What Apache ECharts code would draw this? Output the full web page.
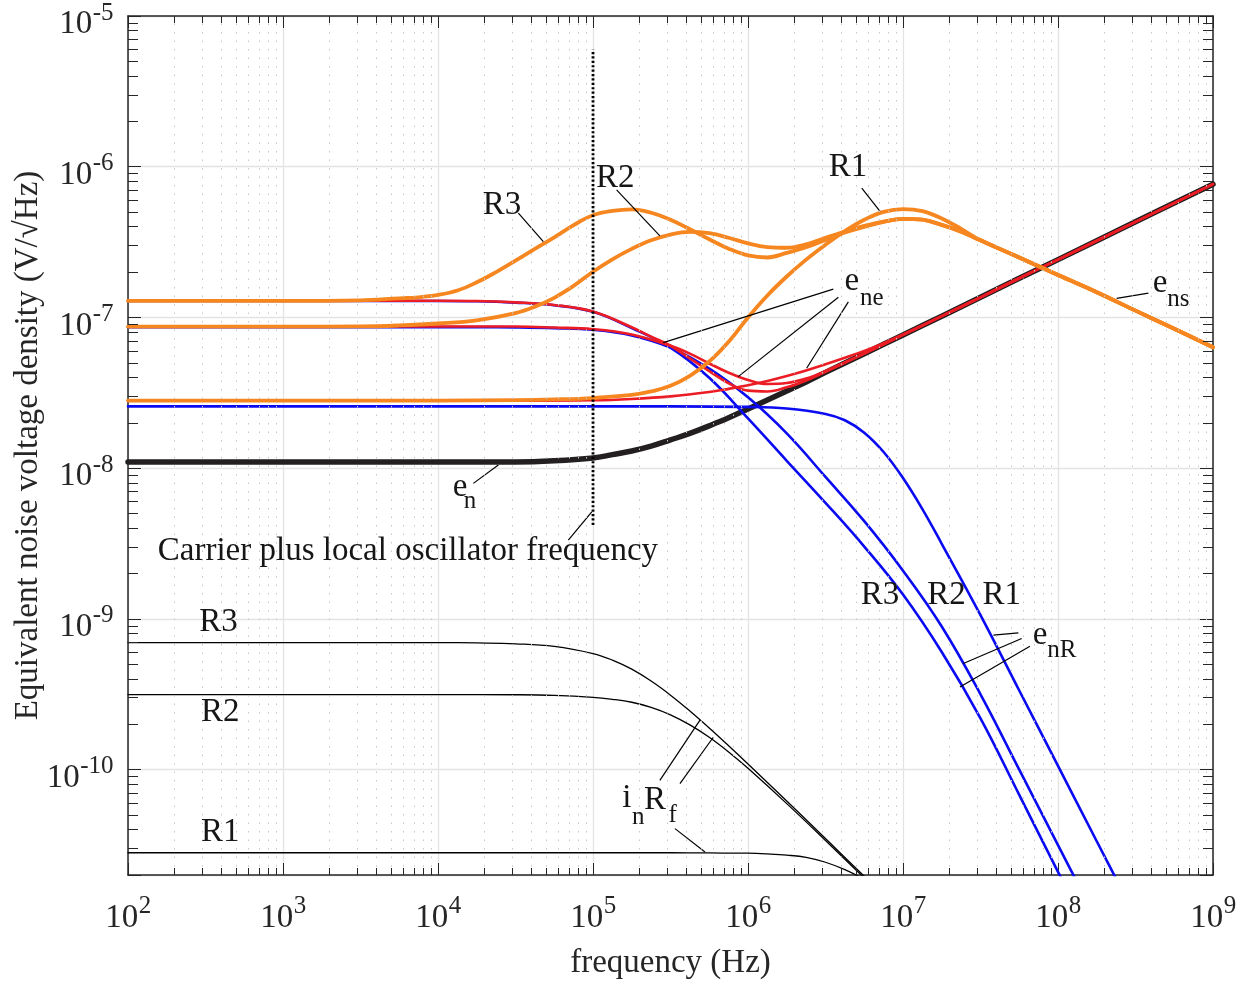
<!DOCTYPE html>
<html><head><meta charset="utf-8">
<script src="https://cdn.jsdelivr.net/npm/echarts@6/dist/echarts.min.js"></script>
<style>html,body{margin:0;padding:0;background:#fff}#c{width:1251px;height:987px}</style>
</head><body><div id="c"></div>
<script>
// ---------- data: [frequency (Hz), density (V/sqrt(Hz))] ----------
// e_ns (orange)
const ensR3 = [[1e2,1.29e-7],[1e3,1.29e-7],[3.162e3,1.30e-7],[5.623e3,1.34e-7],[7.499e3,1.36e-7],[1e4,1.41e-7],
  [1.334e4,1.51e-7],[1.778e4,1.71e-7],[2.371e4,2.0e-7],[3.162e4,2.38e-7],[4.217e4,2.85e-7],[5.623e4,3.40e-7],
  [7.499e4,4.1e-7],[1e5,4.76e-7],[1.334e5,5.09e-7],[1.778e5,5.21e-7],[2.371e5,4.95e-7],[3.162e5,4.45e-7],
  [4.217e5,3.85e-7],[5.623e5,3.30e-7],[7.499e5,2.86e-7],[1e6,2.58e-7],[1.334e6,2.50e-7],[1.778e6,2.68e-7],
  [2.371e6,2.92e-7],[3.162e6,3.27e-7],[4.217e6,3.66e-7],[5.623e6,3.99e-7],[7.499e6,4.31e-7],[1e7,4.51e-7],
  [1.334e7,4.45e-7],[1.778e7,4.11e-7],[2.371e7,3.71e-7],[3.162e7,3.25e-7],[5.623e7,2.50e-7],[1e8,1.91e-7],
  [1.778e8,1.47e-7],[3.162e8,1.11e-7],[5.623e8,8.41e-8],[1e9,6.34e-8]];
const ensR2 = [[1e2,8.7e-8],[1e3,8.7e-8],[3.162e3,8.72e-8],[5.623e3,8.85e-8],[1e4,9.12e-8],[1.778e4,9.58e-8],
  [3.162e4,1.07e-7],[4.217e4,1.18e-7],[5.623e4,1.35e-7],[7.499e4,1.62e-7],[1e5,2.01e-7],[1.334e5,2.43e-7],
  [1.778e5,2.85e-7],[2.371e5,3.25e-7],[3.162e5,3.55e-7],[4.217e5,3.70e-7],[5.623e5,3.62e-7],[7.499e5,3.38e-7],
  [1e6,3.10e-7],[1.334e6,2.93e-7],[1.778e6,2.90e-7],[2.371e6,3.05e-7],[3.162e6,3.38e-7],[4.217e6,3.72e-7],
  [5.623e6,4.05e-7],[7.499e6,4.33e-7],[1e7,4.51e-7],[1.334e7,4.45e-7],[1.778e7,4.11e-7],[2.371e7,3.71e-7],
  [3.162e7,3.25e-7],[5.623e7,2.50e-7],[1e8,1.91e-7],[1.778e8,1.47e-7],[3.162e8,1.11e-7],[5.623e8,8.41e-8],[1e9,6.34e-8]];
const ensR1 = [[1e2,2.81e-8],[1e3,2.81e-8],[1e4,2.81e-8],[3.162e4,2.83e-8],[5.623e4,2.86e-8],[1e5,2.92e-8],
  [1.778e5,3.06e-8],[2.371e5,3.23e-8],[3.162e5,3.52e-8],[4.217e5,4.1e-8],[5.623e5,5.1e-8],[7.499e5,6.9e-8],
  [1e6,1.0e-7],[1.334e6,1.40e-7],[1.778e6,1.87e-7],[2.371e6,2.42e-7],[3.162e6,3.04e-7],[4.217e6,3.74e-7],
  [5.623e6,4.45e-7],[7.499e6,5.02e-7],[1e7,5.24e-7],[1.334e7,5.08e-7],[1.778e7,4.54e-7],[2.371e7,3.87e-7],
  [3.162e7,3.25e-7],[5.623e7,2.50e-7],[1e8,1.91e-7],[1.778e8,1.47e-7],[3.162e8,1.11e-7],[5.623e8,8.41e-8],[1e9,6.34e-8]];

// e_n (thick black)
const en = [[1e2,1.10e-8],[1e4,1.10e-8],[3.162e4,1.10e-8],[5.623e4,1.12e-8],[1e5,1.17e-8],[1.334e5,1.23e-8],
  [1.778e5,1.30e-8],[2.371e5,1.40e-8],[3.162e5,1.54e-8],[4.217e5,1.70e-8],[5.623e5,1.91e-8],[7.499e5,2.16e-8],
  [1e6,2.47e-8],[1.334e6,2.83e-8],[1.778e6,3.25e-8],[2.371e6,3.73e-8],[3.162e6,4.32e-8],[5.623e6,5.75e-8],
  [1e7,7.66e-8],[1.778e7,1.02e-7],[3.162e7,1.36e-7],[5.623e7,1.82e-7],[1e8,2.42e-7],[3.162e8,4.31e-7],[1e9,7.66e-7]];

// e_ne (red)
const eneR3 = [[1e2,1.29e-7],[1e4,1.29e-7],[1.778e4,1.285e-7],[3.162e4,1.26e-7],[5.623e4,1.21e-7],[1e5,1.096e-7],
  [1.778e5,8.61e-8],[2.371e5,7.46e-8],[3.162e5,6.49e-8],[4.217e5,5.35e-8],[5.623e5,4.41e-8],[7.499e5,3.66e-8],
  [1e6,3.27e-8],[1.334e6,3.23e-8],[1.778e6,3.44e-8],[2.371e6,3.82e-8],[3.162e6,4.36e-8],[5.623e6,5.76e-8],
  [1e7,7.66e-8],[1.778e7,1.02e-7],[3.162e7,1.36e-7],[5.623e7,1.82e-7],[1e8,2.42e-7],[3.162e8,4.31e-7],[1e9,7.66e-7]];
const eneR2 = [[1e2,8.7e-8],[3.162e4,8.7e-8],[5.623e4,8.57e-8],[1e5,8.36e-8],[1.778e5,7.71e-8],[3.162e5,6.49e-8],
  [4.217e5,5.76e-8],[5.623e5,4.95e-8],[7.499e5,4.30e-8],[1e6,3.85e-8],[1.334e6,3.62e-8],[1.778e6,3.67e-8],
  [2.371e6,3.93e-8],[3.162e6,4.41e-8],[5.623e6,5.77e-8],[1e7,7.66e-8],[1.778e7,1.02e-7],[3.162e7,1.36e-7],
  [5.623e7,1.82e-7],[1e8,2.42e-7],[3.162e8,4.31e-7],[1e9,7.66e-7]];
const eneR1 = [[1e2,2.8e-8],[3.162e4,2.8e-8],[1e5,2.82e-8],[1.778e5,2.88e-8],[3.162e5,2.995e-8],[5.623e5,3.20e-8],
  [7.499e5,3.36e-8],[1e6,3.55e-8],[1.334e6,3.79e-8],[1.778e6,4.09e-8],[2.371e6,4.45e-8],[3.162e6,4.89e-8],
  [4.217e6,5.40e-8],[5.623e6,6.0e-8],[7.499e6,6.76e-8],[1e7,7.71e-8],[1.778e7,1.02e-7],[3.162e7,1.36e-7],
  [5.623e7,1.82e-7],[1e8,2.42e-7],[3.162e8,4.31e-7],[1e9,7.66e-7]];

// e_nR (blue)
const enR3 = [[1e2,1.285e-7],[1e4,1.285e-7],[1.778e4,1.28e-7],[3.162e4,1.255e-7],[5.623e4,1.205e-7],[1e5,1.09e-7],
  [1.778e5,8.51e-8],[3.162e5,6.31e-8],[5.623e5,3.98e-8],[1e6,2.14e-8],[1.778e6,1.12e-8],[3.162e6,5.89e-9],
  [5.623e6,3.02e-9],[1e7,1.45e-9],[1.778e7,6.03e-10],[3.162e7,2.19e-10],[5.623e7,6.8e-11],[1e8,2.1e-11],[1.778e8,6.6e-12]];
const enR2 = [[1e2,8.63e-8],[1.778e4,8.63e-8],[3.162e4,8.6e-8],[5.623e4,8.5e-8],[1e5,8.28e-8],[1.778e5,7.6e-8],
  [3.162e5,6.31e-8],[5.623e5,4.57e-8],[1e6,2.95e-8],[1.778e6,1.70e-8],[3.162e6,8.75e-9],[5.623e6,4.45e-9],
  [1e7,2.09e-9],[1.778e7,8.91e-10],[3.162e7,3.16e-10],[5.623e7,1.0e-10],[1e8,3.16e-11],[1.778e8,1.0e-11]];
const enR1 = [[1e2,2.57e-8],[3.162e5,2.57e-8],[1e6,2.55e-8],[1.778e6,2.49e-8],[3.162e6,2.29e-8],[4.217e6,2.08e-8],
  [5.623e6,1.72e-8],[7.499e6,1.28e-8],[1e7,8.6e-9],[1.334e7,5.35e-9],[1.778e7,3.15e-9],[3.162e7,1.06e-9],
  [5.623e7,3.35e-10],[1e8,1.06e-10],[1.778e8,3.35e-11],[3.162e8,1.06e-11]];

// i_n R_f (thin black)
const inRfR3 = [[1e2,6.97e-10],[1e4,6.96e-10],[1.778e4,6.93e-10],[3.162e4,6.84e-10],[5.623e4,6.57e-10],[1e5,5.89e-10],
  [1.334e5,5.33e-10],[1.778e5,4.64e-10],[2.371e5,3.87e-10],[3.162e5,3.12e-10],[4.217e5,2.45e-10],[5.623e5,1.89e-10],
  [7.499e5,1.44e-10],[1e6,1.09e-10],[1.778e6,6.19e-11],[3.162e6,3.49e-11],[5.623e6,1.96e-11],[1e7,1.1e-11]];
const inRfR2 = [[1e2,3.15e-10],[1e4,3.15e-10],[3.162e4,3.14e-10],[5.623e4,3.11e-10],[1e5,3.02e-10],[1.334e5,2.93e-10],
  [1.778e5,2.80e-10],[2.371e5,2.59e-10],[3.162e5,2.31e-10],[4.217e5,1.98e-10],[5.623e5,1.64e-10],[7.499e5,1.31e-10],
  [1e6,1.02e-10],[1.778e6,5.95e-11],[3.162e6,3.39e-11],[5.623e6,1.91e-11],[1e7,1.08e-11]];
const inRfR1 = [[1e2,2.81e-11],[3.162e5,2.81e-11],[5.623e5,2.80e-11],[1e6,2.79e-11],[1.334e6,2.76e-11],[1.778e6,2.71e-11],
  [2.371e6,2.62e-11],[3.162e6,2.43e-11],[4.217e6,2.17e-11],[5.623e6,1.87e-11],[7.499e6,1.55e-11],[1e7,1.25e-11]];

// carrier marker (vertical dotted line)
const carrierF = 1e5;
const carrierSpan = [4.2e-9, 6e-6];

// axis ranges and tick decades
const xRange = [1e2, 1e9];
const yRange = [2e-11, 1e-5];
const xDecades = [2, 3, 4, 5, 6, 7, 8, 9];
const yDecades = [-10, -9, -8, -7, -6, -5];

// annotations (anchors in data coordinates)
const annoText = [
  {t: 'R3', at: [2.59e4, 5.58e-7]},
  {t: 'R2', at: [1.39e5, 8.43e-7]},
  {t: 'R1', at: [4.42e6, 9.84e-7]},
  {t: 'e', at: [4.67e6, 1.73e-7]}, {t: 'ne', sub: true, at: [6.28e6, 1.34e-7]},
  {t: 'e', at: [4.55e8, 1.69e-7]}, {t: 'ns', sub: true, at: [5.97e8, 1.31e-7]},
  {t: 'e', at: [1.39e4, 7.52e-9]}, {t: 'n', sub: true, at: [1.61e4, 5.98e-9]},
  {t: 'Carrier plus local oscillator frequency', at: [6.40e3, 2.81e-9]},
  {t: 'R3', at: [7.11e6, 1.44e-9]}, {t: 'R2', at: [1.91e7, 1.44e-9]}, {t: 'R1', at: [4.33e7, 1.44e-9]},
  {t: 'e', at: [7.66e7, 7.80e-10]}, {t: 'nR', sub: true, at: [1.06e8, 6.19e-10]},
  {t: 'R3', at: [383, 9.55e-10]}, {t: 'R2', at: [393, 2.41e-10]}, {t: 'R1', at: [393, 3.85e-11]},
  {t: 'i', at: [1.65e5, 6.41e-11]}, {t: 'n', sub: true, at: [1.96e5, 4.84e-11]},
  {t: 'R', at: [2.51e5, 6.25e-11]}, {t: 'f', sub: true, at: [3.27e5, 4.97e-11]}
];
const leaders = [
  [[3.30e4, 4.92e-7], [4.78e4, 3.18e-7]],
  [[1.42e5, 7.03e-7], [2.70e5, 3.48e-7]],
  [[5.42e6, 7.21e-7], [7.11e6, 5.05e-7]],
  [[3.55e6, 1.54e-7], [2.84e5, 6.81e-8]],
  [[3.83e6, 1.36e-7], [8.65e5, 4.05e-8]],
  [[4.44e6, 1.27e-7], [2.39e6, 4.60e-8]],
  [[3.83e8, 1.45e-7], [2.39e8, 1.34e-7]],
  [[1.69e4, 7.93e-9], [2.45e4, 1.05e-8]],
  [[6.93e4, 3.33e-9], [9.82e4, 5.13e-9]],
  [[5.55e7, 8.07e-10], [3.83e7, 7.80e-10]],
  [[5.83e7, 7.41e-10], [2.45e7, 5.06e-10]],
  [[6.59e7, 6.59e-10], [2.33e7, 3.53e-10]],
  [[2.70e5, 8.49e-11], [4.90e5, 2.13e-10]],
  [[3.64e5, 8.07e-11], [5.97e5, 1.64e-10]],
  [[3.38e5, 4.06e-11], [5.28e5, 2.84e-11]]
];

// ---------- chart ----------
const FONTNAME = '"Liberation Serif", "Times New Roman", serif';
const AX = '#262626';
const ORANGE = '#F6861F', RED = '#EC1C24', BLUE = '#0B0BF2', BLK = '#231F20';

// minor tick / minor grid positions (2..9 x 10^k)
const minorX = [];
for (let k = 2; k <= 8; k++) for (let m = 2; m <= 9; m++) minorX.push(m * Math.pow(10, k));
const minorY = [];
for (let k = -11; k <= -6; k++) for (let m = 2; m <= 9; m++) {
  const v = m * Math.pow(10, k);
  if (v > yRange[0] * 1.001) minorY.push(v);
}
const tx = 1.113, ty = 1.16; // minor tick length factors
const tickLines = [];
minorX.forEach(v => {
  tickLines.push([{coord: [v, yRange[0]]}, {coord: [v, yRange[0] * tx]}]);
  tickLines.push([{coord: [v, yRange[1]]}, {coord: [v, yRange[1] / tx]}]);
});
minorY.forEach(v => {
  tickLines.push([{coord: [xRange[0], v]}, {coord: [xRange[0] * ty, v]}]);
  tickLines.push([{coord: [xRange[1], v]}, {coord: [xRange[1] / ty, v]}]);
});

function curve(name, data, color, width) {
  return {name, type: 'line', data, showSymbol: false, symbol: 'none', smooth: 0.4,
    lineStyle: {color, width, cap: 'round', join: 'round'}, silent: true, clip: true};
}

const chart = echarts.init(document.getElementById('c'));
const series = [
  {type: 'line', data: [[xRange[0], yRange[0]]], symbol: 'none', lineStyle: {width: 0}, silent: true, z: 1,
    markLine: {silent: true, symbol: ['none', 'none'], label: {show: false}, animation: false,
      lineStyle: {color: '#c6c6c6', type: [1.5, 7], width: 1},
      data: minorX.map(v => ({xAxis: v})).concat(minorY.map(v => ({yAxis: v})))}},
  {type: 'line', data: [[xRange[0], yRange[0]]], symbol: 'none', lineStyle: {width: 0}, silent: true, z: 3,
    markLine: {silent: true, symbol: ['none', 'none'], label: {show: false}, animation: false,
      lineStyle: {color: AX, type: 'solid', width: 1}, data: tickLines}},
  curve('inRfR3', inRfR3, '#000', 1.3),
  curve('inRfR2', inRfR2, '#000', 1.3),
  curve('inRfR1', inRfR1, '#000', 1.3),
  curve('en', en, BLK, 5.5),
  curve('enR1', enR1, BLUE, 2.6),
  curve('enR2', enR2, BLUE, 2.6),
  curve('enR3', enR3, BLUE, 2.6),
  curve('eneR1', eneR1, RED, 2.6),
  curve('eneR2', eneR2, RED, 2.6),
  curve('eneR3', eneR3, RED, 2.6),
  curve('ensR1', ensR1, ORANGE, 3.8),
  curve('ensR2', ensR2, ORANGE, 3.8),
  curve('ensR3', ensR3, ORANGE, 3.8),
  {type: 'line', data: [[carrierF, carrierSpan[0]], [carrierF, carrierSpan[1]]], symbol: 'none', silent: true,
    lineStyle: {color: '#000', width: 2.8, type: [2.2, 2.2]}}
].concat(leaders.map(seg => ({type: 'line', data: seg, symbol: 'none', silent: true,
  lineStyle: {color: '#000', width: 1.2}})));

chart.setOption({
  animation: false,
  backgroundColor: '#fff',
  grid: {left: 128, right: 38, top: 16, bottom: 112, containLabel: false, outerBoundsMode: 'none'},
  xAxis: [
    {type: 'log', logBase: 10, min: xRange[0], max: xRange[1], position: 'bottom',
      name: 'frequency (Hz)', nameLocation: 'middle', nameGap: 72,
      nameTextStyle: {fontFamily: FONTNAME, fontSize: 33, color: AX},
      axisLine: {show: true, onZero: false, lineStyle: {color: AX, width: 1.5}},
      axisTick: {show: true, inside: true, length: 12, lineStyle: {color: AX, width: 1}},
      axisLabel: {show: false},
      splitLine: {show: true, lineStyle: {color: '#e3e3e3', width: 1.3}}},
    {type: 'log', logBase: 10, min: xRange[0], max: xRange[1], position: 'top',
      axisLine: {show: true, onZero: false, lineStyle: {color: AX, width: 1.5}},
      axisTick: {show: true, inside: true, length: 12, lineStyle: {color: AX, width: 1}},
      axisLabel: {show: false}, splitLine: {show: false}}
  ],
  yAxis: [
    {type: 'log', logBase: 10, min: yRange[0], max: yRange[1], position: 'left',
      name: 'Equivalent noise voltage density (V/\u221AHz)', nameLocation: 'middle', nameGap: 83, nameRotate: 90,
      nameTextStyle: {fontFamily: FONTNAME, fontSize: 33, color: AX},
      axisLine: {show: true, onZero: false, lineStyle: {color: AX, width: 1.5}},
      axisTick: {show: true, inside: true, length: 13, lineStyle: {color: AX, width: 1}},
      axisLabel: {show: false},
      splitLine: {show: true, lineStyle: {color: '#e3e3e3', width: 1.3}}},
    {type: 'log', logBase: 10, min: yRange[0], max: yRange[1], position: 'right',
      axisLine: {show: true, onZero: false, lineStyle: {color: AX, width: 1.5}},
      axisTick: {show: true, inside: true, length: 13, lineStyle: {color: AX, width: 1}},
      axisLabel: {show: false}, splitLine: {show: false}}
  ],
  series
});

// ---------- text: tick labels (10 with superscript exponent) and annotations ----------
const mctx = document.createElement('canvas').getContext('2d');
function measure(t, size) { mctx.font = size + 'px ' + FONTNAME; return mctx.measureText(t).width; }
function txt(t, x, y, size, align, color) {
  return {type: 'text', x, y, z: 100, silent: true,
    style: {text: t, font: size + 'px ' + FONTNAME, fill: color || '#161616',
      align, verticalAlign: 'middle', textAlign: align, textVerticalAlign: 'middle'}};
}
const gfx = [];
const BIG = 33, SUP = 25;
xDecades.forEach(k => {
  const p = chart.convertToPixel({xAxisIndex: 0, yAxisIndex: 0}, [Math.pow(10, k), yRange[0]]);
  const sup = String(k);
  const w10 = measure('10', BIG), ws = measure(sup, SUP);
  const left = p[0] - (w10 + ws) / 2;
  gfx.push(txt('10', left, p[1] + 43, BIG, 'left', AX));
  gfx.push(txt(sup, left + w10 + 0.5, p[1] + 31, SUP, 'left', AX));
});
yDecades.forEach(k => {
  const p = chart.convertToPixel({xAxisIndex: 0, yAxisIndex: 0}, [xRange[0], Math.pow(10, k)]);
  const sup = '-' + String(-k);
  const ws = measure(sup, SUP);
  const right = p[0] - 14.5;
  gfx.push(txt(sup, right, p[1] - 3, SUP, 'right', AX));
  gfx.push(txt('10', right - ws - 0.5, p[1] + 8.5, BIG, 'right', AX));
});
annoText.forEach(a => {
  const p = chart.convertToPixel({xAxisIndex: 0, yAxisIndex: 0}, a.at);
  gfx.push(txt(a.t, p[0], p[1], a.sub ? SUP : BIG, 'center'));
});
chart.setOption({graphic: gfx});
</script>
</body></html>
